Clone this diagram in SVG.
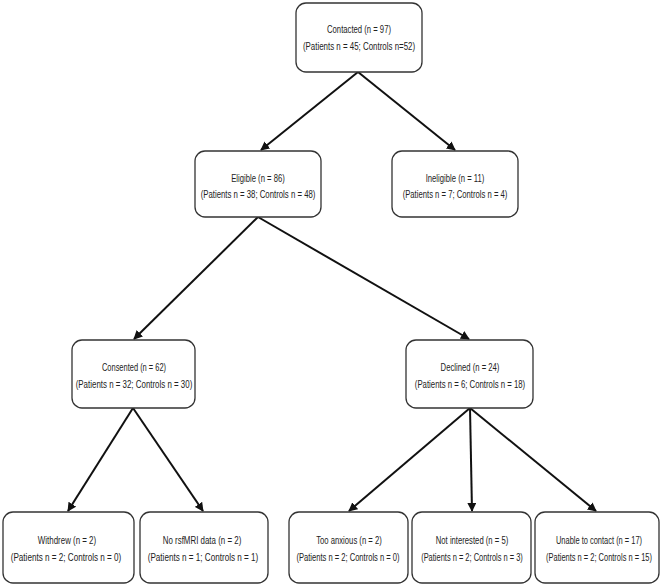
<svg xmlns="http://www.w3.org/2000/svg" width="666" height="585" viewBox="0 0 666 585">
<style>
.box{fill:#fff;stroke:#333;stroke-width:1.3}
text{font-family:"Liberation Sans",Arial,sans-serif;font-size:11px;fill:#222;text-anchor:middle}
.c line{stroke:#111;stroke-width:2}
</style>
<defs>
<marker id="ah" viewBox="0 0 10 10" refX="9" refY="5" markerWidth="4.5" markerHeight="4.5" orient="auto" markerUnits="strokeWidth">
<path d="M0,0 L10,5 L0,10 z" fill="#111"/>
</marker>
</defs>
<rect width="666" height="585" fill="#fff"/>
<g class="c">
<line x1="358" y1="72" x2="261" y2="150" marker-end="url(#ah)"/>
<line x1="358" y1="72" x2="455" y2="150" marker-end="url(#ah)"/>
<line x1="258" y1="217" x2="134" y2="339" marker-end="url(#ah)"/>
<line x1="258" y1="217" x2="469" y2="339" marker-end="url(#ah)"/>
<line x1="133" y1="408" x2="68" y2="511" marker-end="url(#ah)"/>
<line x1="133" y1="408" x2="203" y2="511" marker-end="url(#ah)"/>
<line x1="470" y1="408" x2="349" y2="511" marker-end="url(#ah)"/>
<line x1="470" y1="408" x2="472" y2="511" marker-end="url(#ah)"/>
<line x1="470" y1="408" x2="596" y2="511" marker-end="url(#ah)"/>
</g>
<g id="contacted">
<rect class="box" x="296" y="3" width="126" height="69" rx="10"/>
<text transform="translate(359,33) scale(0.7,1)">Contacted (n = 97)</text>
<text transform="translate(359,50) scale(0.72,1)">(Patients n = 45; Controls n=52)</text>
</g>
<g id="eligible">
<rect class="box" x="195" y="151" width="126" height="66" rx="10"/>
<text transform="translate(258,182) scale(0.7,1)">Eligible  (n = 86)</text>
<text transform="translate(258,198) scale(0.71,1)">(Patients n = 38; Controls n = 48)</text>
</g>
<g id="ineligible">
<rect class="box" x="392" y="151" width="126" height="66" rx="10"/>
<text transform="translate(455,182) scale(0.7,1)">Ineligible  (n = 11)</text>
<text transform="translate(455,198) scale(0.7,1)">(Patients n = 7; Controls n = 4)</text>
</g>
<g id="consented">
<rect class="box" x="72" y="340" width="123" height="68" rx="10"/>
<text transform="translate(134,371) scale(0.68,1)">Consented (n = 62)</text>
<text transform="translate(134,388) scale(0.72,1)">(Patients n = 32; Controls n = 30)</text>
</g>
<g id="declined">
<rect class="box" x="406" y="340" width="127" height="68" rx="10"/>
<text transform="translate(470,371) scale(0.7,1)">Declined  (n = 24)</text>
<text transform="translate(470,388) scale(0.71,1)">(Patients n = 6; Controls n = 18)</text>
</g>
<g id="withdrew">
<rect class="box" x="3" y="512" width="131" height="71" rx="10"/>
<text transform="translate(67,544) scale(0.72,1)">Withdrew  (n = 2)</text>
<text transform="translate(66,561) scale(0.74,1)">(Patients n = 2; Controls n = 0)</text>
</g>
<g id="norsfmri">
<rect class="box" x="140" y="512" width="128" height="71" rx="10"/>
<text transform="translate(202,544) scale(0.72,1)">No rsfMRI data  (n = 2)</text>
<text transform="translate(203,561) scale(0.74,1)">(Patients n = 1; Controls n = 1)</text>
</g>
<g id="tooanxious">
<rect class="box" x="289" y="512" width="119" height="71" rx="10"/>
<text transform="translate(349,544) scale(0.7,1)">Too anxious  (n = 2)</text>
<text transform="translate(348,561) scale(0.69,1)">(Patients n = 2; Controls n = 0)</text>
</g>
<g id="notinterested">
<rect class="box" x="412" y="512" width="119" height="71" rx="10"/>
<text transform="translate(472,544) scale(0.7,1)">Not interested  (n = 5)</text>
<text transform="translate(472,561) scale(0.68,1)">(Patients n = 2; Controls n = 3)</text>
</g>
<g id="unable">
<rect class="box" x="535" y="512" width="124" height="71" rx="10"/>
<text transform="translate(599,544) scale(0.68,1)">Unable to contact (n = 17)</text>
<text transform="translate(599,561) scale(0.68,1)">(Patients n = 2; Controls n = 15)</text>
</g>
</svg>
